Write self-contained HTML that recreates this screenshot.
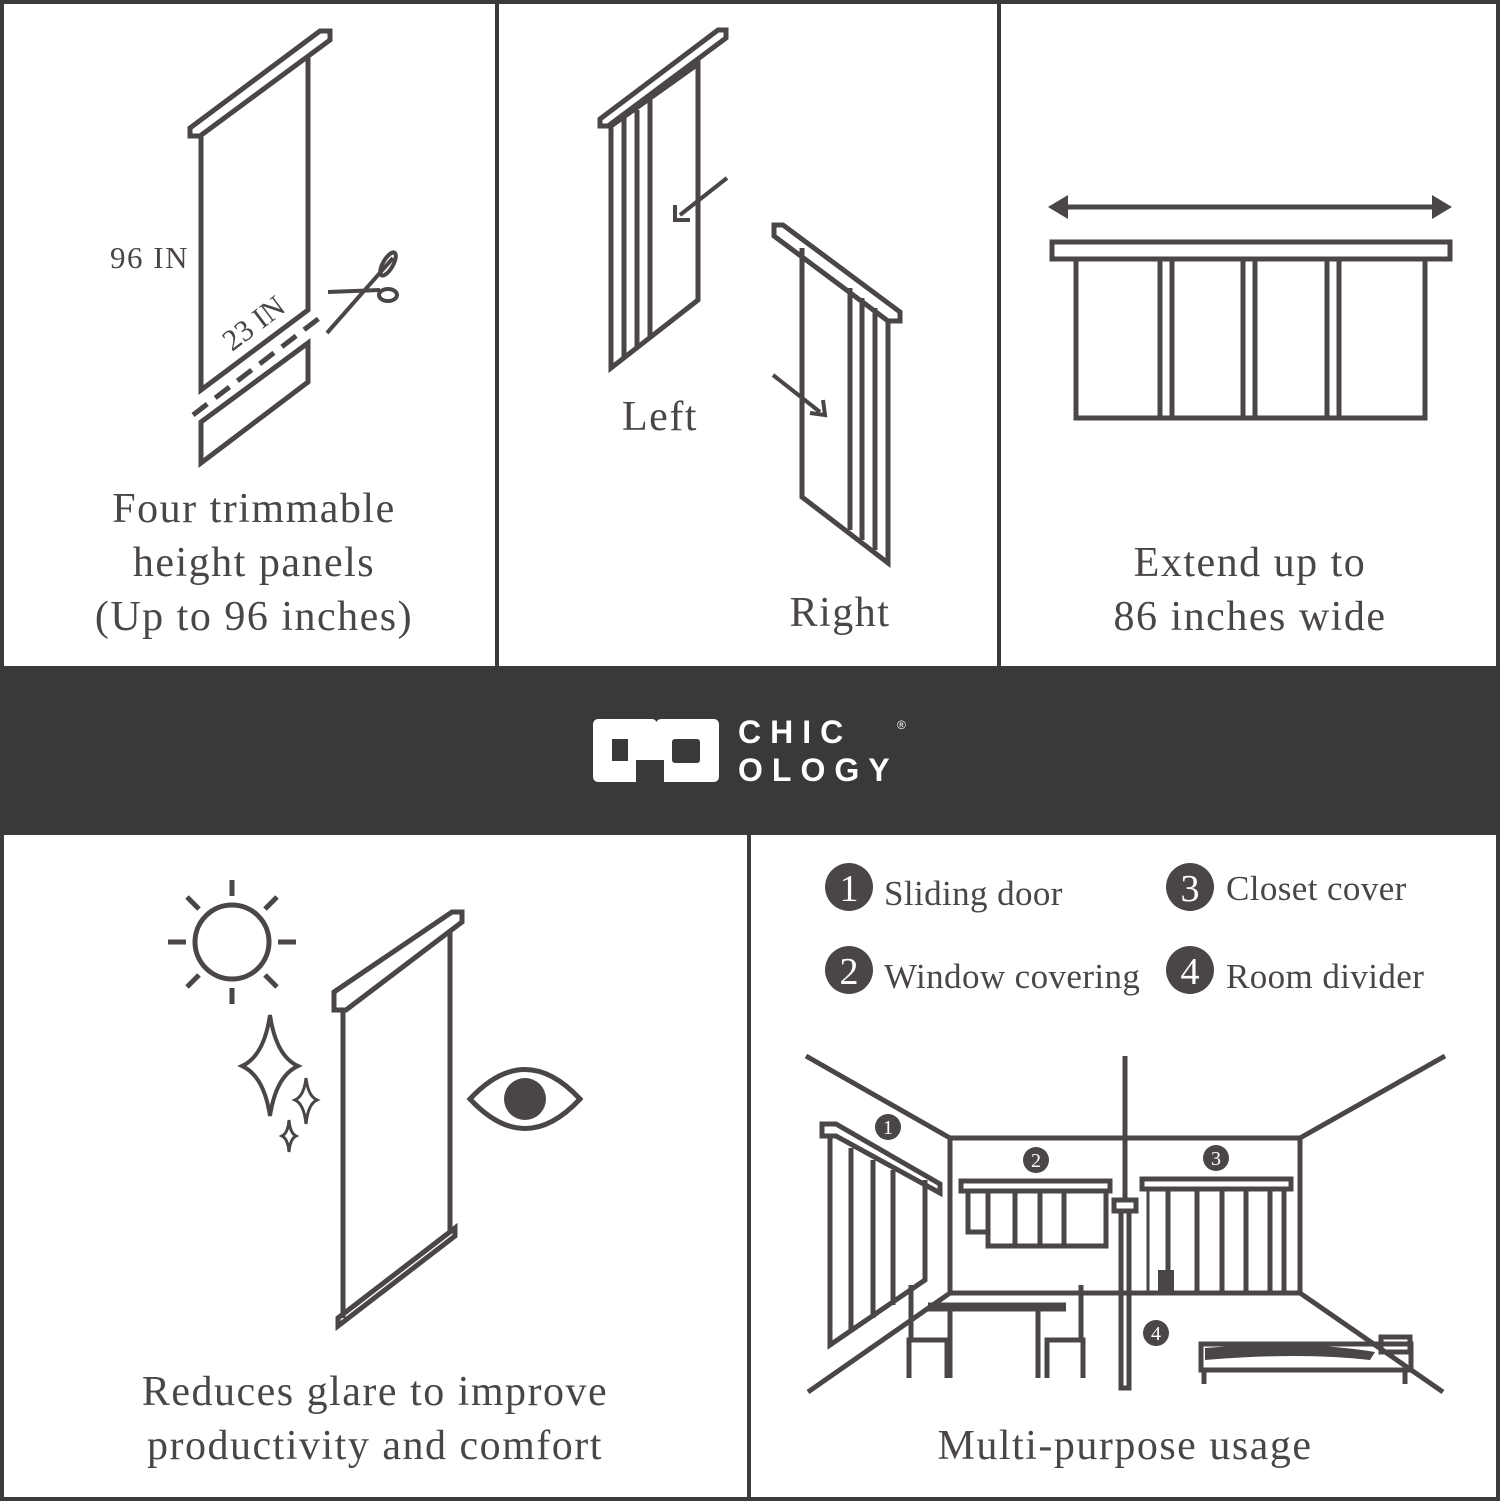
<!DOCTYPE html>
<html><head><meta charset="utf-8"><style>
html,body{margin:0;padding:0;background:#fff}
svg{display:block}
text{font-family:"Liberation Serif",serif;fill:#4a4546}
.cap{letter-spacing:1.5px}
</style></head><body>
<svg width="1500" height="1501" viewBox="0 0 1500 1501" xmlns="http://www.w3.org/2000/svg">
<rect x="0" y="0" width="1500" height="1501" fill="#fff"/>
<g fill="none" stroke="#3d3a3b" stroke-width="4">
<rect x="2" y="2" width="1496" height="1497"/>
<line x1="497" y1="0" x2="497" y2="666"/>
<line x1="999" y1="0" x2="999" y2="666"/>
<line x1="749" y1="835" x2="749" y2="1501"/>
</g>
<rect x="0" y="666" width="1500" height="169" fill="#3a3838"/>
<g fill="#fff">
<rect x="593" y="719" width="64" height="63" rx="5"/>
<rect x="656" y="719" width="63" height="63" rx="5"/>
<rect x="612" y="739" width="16" height="22" fill="#3a3838"/>
<rect x="672" y="739" width="28" height="24" rx="3" fill="#3a3838"/>
<rect x="636" y="760" width="28" height="24" fill="#3a3838"/>
</g>
<text x="738" y="743" style="font-family:'Liberation Sans',sans-serif;fill:#fff;font-size:32px;font-weight:bold;letter-spacing:9px">CHIC</text>
<text x="738" y="781" style="font-family:'Liberation Sans',sans-serif;fill:#fff;font-size:32px;font-weight:bold;letter-spacing:9px">OLOGY</text>
<text x="897" y="729" style="font-family:'Liberation Sans',sans-serif;fill:#fff;font-size:12px">®</text>

<g fill="none" stroke="#4a4546" stroke-width="5" stroke-linejoin="miter">
<polygon points="190,128 320,31 330,31 330,40 200,136 190,136"/>
<polyline points="201,136 201,390 308,310 308,58"/>
<line x1="193" y1="415" x2="322" y2="316" stroke-dasharray="18,10"/>
<polygon points="201,422 308,343 308,382 201,463"/>
<line x1="327" y1="333" x2="393" y2="258" stroke-width="4"/>
<line x1="328" y1="292" x2="380" y2="290" stroke-width="4"/>
<ellipse cx="388" cy="264" rx="5" ry="13" transform="rotate(30 388 264)" stroke-width="4"/>
<ellipse cx="388" cy="295" rx="9" ry="6" stroke-width="4"/>
<polygon points="600,119 718,30 726,30 726,38 608,126 600,126"/>
<polygon points="611,126 698,64 698,300 611,368"/>
<line x1="624" y1="118" x2="624" y2="358"/>
<line x1="637" y1="110" x2="637" y2="348"/>
<line x1="650" y1="100" x2="650" y2="338"/>
<line x1="727" y1="178" x2="680" y2="215" stroke-width="4"/>
<polyline points="675,205 675,220 690,220" stroke-width="4"/>
<polygon points="774,225 783,225 900,312 900,321 888,321 774,236"/>
<polyline points="802,248 802,497 888,563 888,321"/>
<line x1="850" y1="288" x2="850" y2="530"/>
<line x1="862" y1="298" x2="862" y2="540"/>
<line x1="875" y1="308" x2="875" y2="550"/>
<line x1="773" y1="375" x2="820" y2="412" stroke-width="4"/>
<polyline points="810,413 825,415 823,400" stroke-width="4"/>
<line x1="1058" y1="207" x2="1442" y2="207"/>
<rect x="1052" y="242" width="398" height="17"/>
<rect x="1076" y="259" width="349" height="159"/>
<line x1="1160" y1="259" x2="1160" y2="418"/><line x1="1172" y1="259" x2="1172" y2="418"/>
<line x1="1243" y1="259" x2="1243" y2="418"/><line x1="1255" y1="259" x2="1255" y2="418"/>
<line x1="1327" y1="259" x2="1327" y2="418"/><line x1="1339" y1="259" x2="1339" y2="418"/>
</g>
<polygon points="1048,207 1068,195 1068,219" fill="#4a4546"/>
<polygon points="1452,207 1432,195 1432,219" fill="#4a4546"/>

<text x="110" y="268" font-size="31" class="cap">96 IN</text>
<text x="0" y="0" font-size="30" transform="translate(232,352) rotate(-37)">23 IN</text>
<text x="254" y="522" font-size="42" class="cap" text-anchor="middle">Four trimmable</text>
<text x="254" y="576" font-size="42" class="cap" text-anchor="middle">height panels</text>
<text x="254" y="630" font-size="42" class="cap" text-anchor="middle">(Up to 96 inches)</text>
<text x="660" y="430" font-size="42" class="cap" text-anchor="middle">Left</text>
<text x="840" y="626" font-size="42" class="cap" text-anchor="middle">Right</text>
<text x="1250" y="576" font-size="42" class="cap" text-anchor="middle">Extend up to</text>
<text x="1250" y="630" font-size="42" class="cap" text-anchor="middle">86 inches wide</text>

<g fill="none" stroke="#4a4546" stroke-width="5">
<circle cx="232" cy="942" r="37"/>
<line x1="232" y1="880" x2="232" y2="896"/><line x1="232" y1="988" x2="232" y2="1004"/>
<line x1="168" y1="942" x2="186" y2="942"/><line x1="278" y1="942" x2="296" y2="942"/>
<line x1="187" y1="897" x2="199" y2="909"/><line x1="265" y1="975" x2="277" y2="987"/>
<line x1="277" y1="897" x2="265" y2="909"/><line x1="199" y1="975" x2="187" y2="987"/>
<path d="M270 1015 Q276 1056 298 1066 Q276 1076 270 1116 Q264 1076 242 1066 Q264 1056 270 1015Z" stroke-width="4"/>
<path d="M306 1078 Q308 1096 317 1100 Q308 1104 306 1124 Q304 1104 295 1100 Q304 1096 306 1078Z" stroke-width="3"/>
<path d="M289 1120 Q290 1133 296 1136 Q290 1139 289 1152 Q288 1139 282 1136 Q288 1133 289 1120Z" stroke-width="3"/>
<polygon points="334,992 452,912 462,912 462,922 346,1010 334,1010"/>
<line x1="343" y1="1010" x2="343" y2="1318"/>
<line x1="450" y1="930" x2="450" y2="1232"/>
<polygon points="338,1318 455,1228 455,1236 338,1326"/>
<path d="M470 1099 Q525 1040 580 1099 Q525 1158 470 1099Z"/>
</g>
<circle cx="525" cy="1099" r="21" fill="#4a4546"/>
<text x="375" y="1405" font-size="42" class="cap" text-anchor="middle">Reduces glare to improve</text>
<text x="375" y="1459" font-size="42" class="cap" text-anchor="middle">productivity and comfort</text>

<g fill="#4a4546">
<circle cx="849" cy="887" r="24"/><circle cx="849" cy="970" r="24"/>
<circle cx="1190" cy="887" r="24"/><circle cx="1190" cy="970" r="24"/>
</g>
<g font-size="38" text-anchor="middle">
<text x="849" y="901" style="fill:#fff">1</text><text x="849" y="984" style="fill:#fff">2</text>
<text x="1190" y="901" style="fill:#fff">3</text><text x="1190" y="984" style="fill:#fff">4</text>
</g>
<text x="884" y="905" font-size="35" style="letter-spacing:0.4px">Sliding door</text>
<text x="884" y="988" font-size="35" style="letter-spacing:0.4px">Window covering</text>
<text x="1226" y="900" font-size="35" style="letter-spacing:0.4px">Closet cover</text>
<text x="1226" y="988" font-size="35" style="letter-spacing:0.4px">Room divider</text>

<g fill="none" stroke="#4a4546" stroke-width="5">
<line x1="806" y1="1056" x2="950" y2="1138"/>
<line x1="1445" y1="1056" x2="1300" y2="1138"/>
<rect x="950" y="1138" width="350" height="155"/>
<line x1="950" y1="1293" x2="808" y2="1392"/>
<line x1="1300" y1="1293" x2="1443" y2="1392"/>
<polygon points="822,1124 836,1124 940,1184 940,1193 836,1136 822,1136"/>
<polyline points="830,1136 830,1345 925,1280 925,1180"/>
<line x1="851" y1="1148" x2="851" y2="1332"/>
<line x1="873" y1="1160" x2="873" y2="1318"/>
<line x1="893" y1="1170" x2="893" y2="1305"/>
<rect x="961" y="1181" width="149" height="10"/>
<polyline points="968,1191 968,1232 988,1232"/>
<rect x="988" y="1191" width="118" height="55"/>
<line x1="1015" y1="1191" x2="1015" y2="1246"/><line x1="1040" y1="1191" x2="1040" y2="1246"/><line x1="1064" y1="1191" x2="1064" y2="1246"/>
<rect x="1142" y="1179" width="149" height="10"/>
<rect x="1168" y="1189" width="116" height="104"/>
<line x1="1197" y1="1189" x2="1197" y2="1293"/><line x1="1222" y1="1189" x2="1222" y2="1293"/><line x1="1246" y1="1189" x2="1246" y2="1293"/><line x1="1270" y1="1189" x2="1270" y2="1293"/>
<line x1="1148" y1="1189" x2="1148" y2="1293" stroke-width="3"/>
<line x1="1125" y1="1056" x2="1125" y2="1200"/>
<rect x="1114" y="1200" width="22" height="11"/>
<rect x="1121" y="1211" width="8" height="177"/>
<rect x="1201" y="1344" width="210" height="26"/>
<line x1="1204" y1="1370" x2="1204" y2="1384"/><line x1="1405" y1="1370" x2="1405" y2="1384"/>
<rect x="1381" y="1337" width="29" height="15"/>
<line x1="928" y1="1307" x2="1066" y2="1307" stroke-width="9"/>
<line x1="950" y1="1307" x2="950" y2="1378"/><line x1="1038" y1="1307" x2="1038" y2="1378"/>
<polyline points="909,1378 909,1340 947,1340 947,1378"/>
<polyline points="1047,1378 1047,1340 1083,1340 1083,1378"/>
<line x1="911" y1="1285" x2="911" y2="1340"/><line x1="1081" y1="1285" x2="1081" y2="1340"/>
</g>
<path d="M1205 1348 Q1300 1340 1375 1352 L1370 1360 Q1300 1352 1205 1360Z" fill="#4a4546"/>
<rect x="1158" y="1270" width="16" height="23" fill="#4a4546"/>
<g fill="#4a4546">
<circle cx="888" cy="1127" r="13"/><circle cx="1036" cy="1160" r="13"/>
<circle cx="1216" cy="1158" r="13"/><circle cx="1156" cy="1333" r="13"/>
</g>
<g font-size="20" text-anchor="middle">
<text x="888" y="1134" style="fill:#fff">1</text><text x="1036" y="1167" style="fill:#fff">2</text>
<text x="1216" y="1165" style="fill:#fff">3</text><text x="1156" y="1340" style="fill:#fff">4</text>
</g>
<text x="1125" y="1459" font-size="42" class="cap" text-anchor="middle">Multi-purpose usage</text>
</svg>
</body></html>
